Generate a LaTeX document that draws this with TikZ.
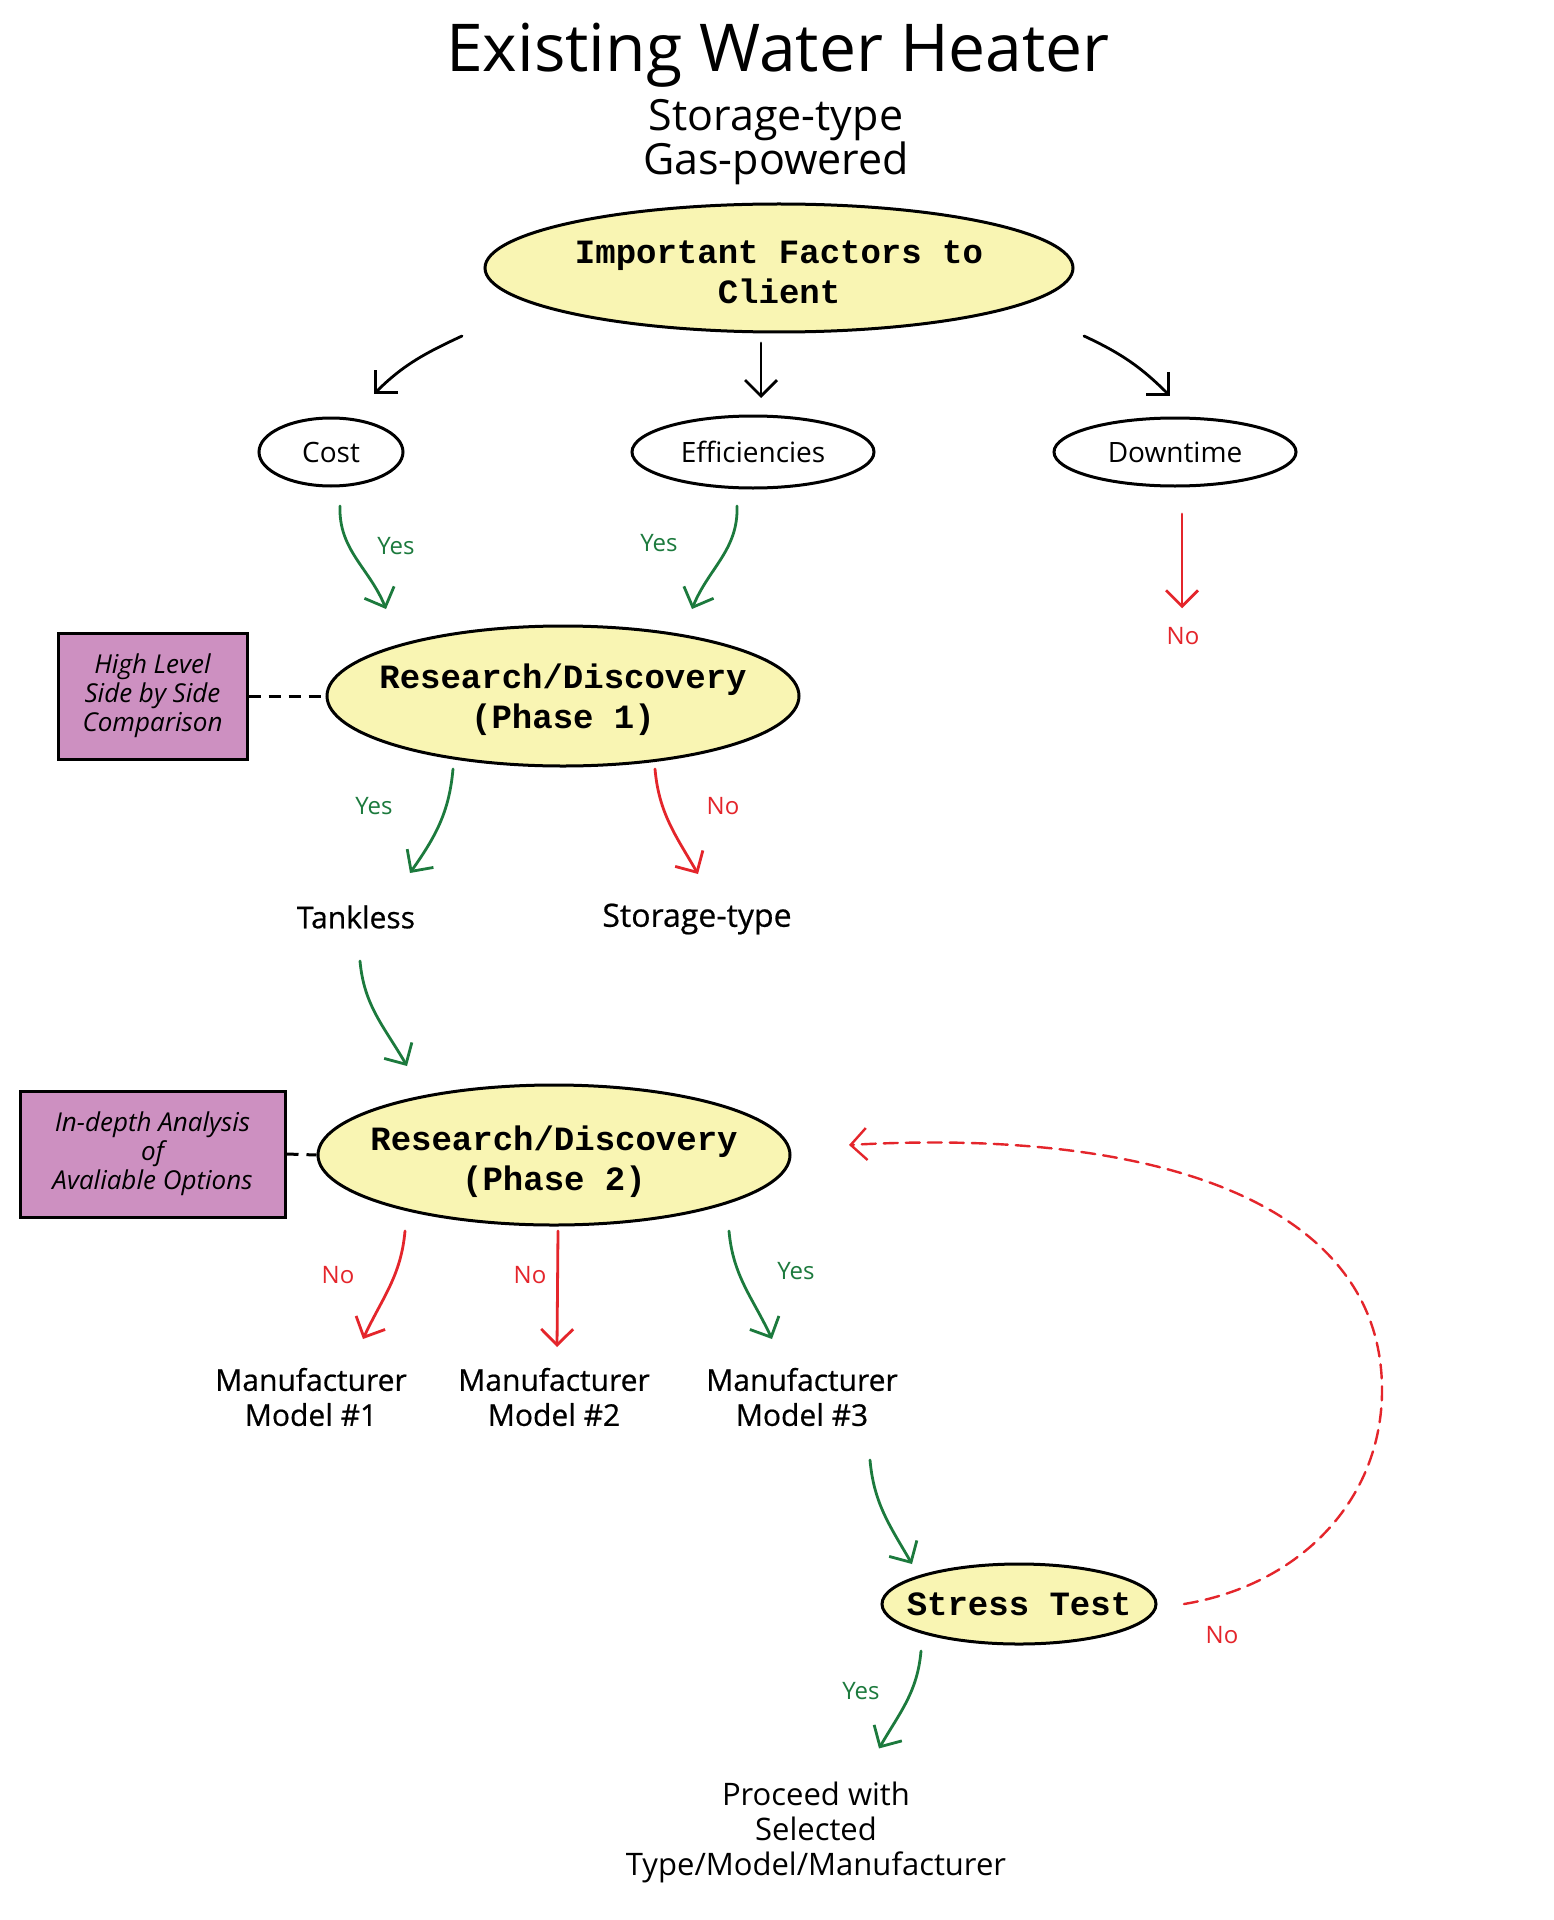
\documentclass[tikz,border=0pt]{standalone}
\usepackage{fontspec}
\setmainfont{Open Sans}
\newfontfamily\monofam{Liberation Mono}
\usetikzlibrary{shapes.geometric,arrows.meta,calc}
\definecolor{yel}{HTML}{F9F5B3}
\definecolor{pur}{HTML}{CD90C1}
\definecolor{grn}{HTML}{1C7A3D}
\definecolor{rd}{HTML}{E4252B}
\begin{document}
\begin{tikzpicture}[x=0.5pt,y=-0.5pt,
  yell/.style={ellipse, draw, fill=yel, line width=1.5pt, inner sep=0pt},
  well/.style={ellipse, draw, fill=white, line width=1.5pt, inner sep=0pt},
  monotxt/.style={font=\monofam\bfseries\fontsize{17}{20}\selectfont, align=center},
  hw/.style={font=\fontsize{14}{16}\selectfont, align=center},
  hwb/.style={font=\fontsize{15}{17.5}\selectfont\addfontfeature{FakeBold=0.6}, align=center},
  note/.style={draw, fill=pur, line width=1.5pt, inner sep=0pt, align=center,
    font=\itshape\fontsize{13}{14.5}\selectfont},
  yes/.style={text=grn, font=\fontsize{12}{13}\selectfont},
  no/.style={text=rd, font=\fontsize{12}{13}\selectfont},
  arr/.style={-{Straight Barb[length=8pt,width=16pt]}, line width=1.4pt, line cap=round},
  barr/.style={arr, black},
  garr/.style={arr, grn},
  rarr/.style={arr, rd},
  link/.style={line width=1.5pt, dash pattern=on 6pt off 4pt}
]
\useasboundingbox[fill=white] (0,0) rectangle (1553,1920);

% titles
\node[font=\fontsize{33}{38}\selectfont] (title) at (778,55) {Existing Water Heater};
\node[font=\fontsize{21.5}{22}\selectfont, align=center] (sub) at (776,142) {Storage-type\\Gas-powered};

% top ellipse
\node[yell, minimum width=294pt, minimum height=64pt] (imp) at (779,268) {};
\node[monotxt] (impt) at (779,272) {Important Factors to\\Client};

% factors
\node[well, minimum width=72pt, minimum height=34pt] (cost) at (331,452) {};
\node[hw] (costt) at (331,452) {Cost};
\node[well, minimum width=121pt, minimum height=36pt] (eff) at (753,452) {};
\node[hw] (efft) at (753,452) {Efficiencies};
\node[well, minimum width=121pt, minimum height=34pt] (down) at (1175,452) {};
\node[hw] (downt) at (1175,452) {Downtime};

\draw[barr] ($(imp.center)+(-317,68)$) to[out=205,in=45] ($(cost.center)+(43,-58)$);
\draw[barr] ($(imp.center)+(-18,75)$) -- ($(eff.center)+(8,-54)$);
\draw[barr] ($(imp.center)+(305,68)$) to[out=335,in=135] ($(down.center)+(-5,-56)$);

% phase 1
\node[yell, minimum width=236pt, minimum height=70pt] (rd1) at (563,696) {};
\node[monotxt] (rd1t) at (563,700) {Research/Discovery\\(Phase 1)};
\node[note, minimum width=94.5pt, minimum height=63pt] (box1) at (152.5,696) {High Level\\Side by Side\\Comparison};
\draw[link] (box1.east) -- (rd1.west);

\draw[garr] ($(cost.center)+(9,54)$) to[out=268,in=112] ($(rd1.center)+(-177,-87)$);
\node[yes] (y1) at (396,546) {Yes};
\draw[garr] ($(eff.center)+(-16,54)$) to[out=272,in=68] ($(rd1.center)+(129,-87)$);
\node[yes] (y2) at (659,543) {Yes};
\node[no] (n1) at (1183,636) {No};
\draw[rarr] ($(down.center)+(7,62)$) -- ($(n1.north)+(-1,-12)$);

% tankless / storage
\node[hwb] (tank) at (356,917) {Tankless};
\node[hwb, font=\fontsize{16}{17.5}\selectfont\addfontfeature{FakeBold=0.6}] (stor) at (697,919) {Storage-type};
\draw[garr] ($(rd1.center)+(-110,73)$) to[out=265,in=55] ($(tank.center)+(54,-44)$);
\node[yes] (y3) at (374,806) {Yes};
\draw[rarr] ($(rd1.center)+(92,73)$) to[out=275,in=120] ($(stor.center)+(1,-45)$);
\node[no] (n2) at (723,806) {No};

% phase 2
\node[yell, minimum width=236pt, minimum height=70pt] (rd2) at (554,1155) {};
\node[monotxt] (rd2t) at (554,1162) {Research/Discovery\\(Phase 2)};
\draw[garr] ($(tank.center)+(4,44)$) to[out=275,in=120] ($(rd2.center)+(-147,-89)$);
\node[note, minimum width=132.5pt, minimum height=63pt] (box2) at (152.5,1154) {In-depth Analysis\\of\\Avaliable Options};
\draw[link] (box2.east) -- (rd2.west);

% models
\node[hwb] (m1) at (311,1397) {Manufacturer\\Model \#1};
\node[hwb] (m2) at (554,1397) {Manufacturer\\Model \#2};
\node[hwb] (m3) at (802,1397) {Manufacturer\\Model \#3};
\draw[rarr] ($(rd2.center)+(-149,76)$) to[out=265,in=65] ($(m1.center)+(52,-58)$);
\node[no] (n3) at (338,1275) {No};
\draw[rarr] ($(rd2.center)+(4,76)$) -- ($(m2.center)+(3,-50)$);
\node[no] (n4) at (530,1275) {No};
\draw[garr] ($(rd2.center)+(175,76)$) to[out=275,in=115] ($(m3.center)+(-30,-58)$);
\node[yes] (y4) at (796,1271) {Yes};

% stress test
\node[yell, minimum width=137pt, minimum height=40pt] (st) at (1019,1604) {};
\node[monotxt] (stt) at (1019,1604) {Stress Test};
\draw[garr] ($(m3.center)+(68,63)$) to[out=275,in=120] ($(st.center)+(-107,-40)$);
\draw[rarr, line width=1.2pt, dash pattern=on 7pt off 4pt]
  ($(st.center)+(165,0)$) .. controls (1300,1585) and (1382,1500) .. (1382,1390)
  .. controls (1382,1200) and (1150,1128) .. ($(rd2.center)+(295,-10)$);
\node[no] (n5) at (1222,1635) {No};

% proceed
\node[font=\fontsize{15.5}{17.5}\selectfont, align=center] (proc) at (816,1832) {Proceed with\\Selected\\Type/Model/Manufacturer};
\draw[garr] ($(st.center)+(-98,47)$) to[out=265,in=60] ($(proc.north)+(63,-26)$);
\node[yes] (y5) at (861,1691) {Yes};
\end{tikzpicture}
\end{document}
